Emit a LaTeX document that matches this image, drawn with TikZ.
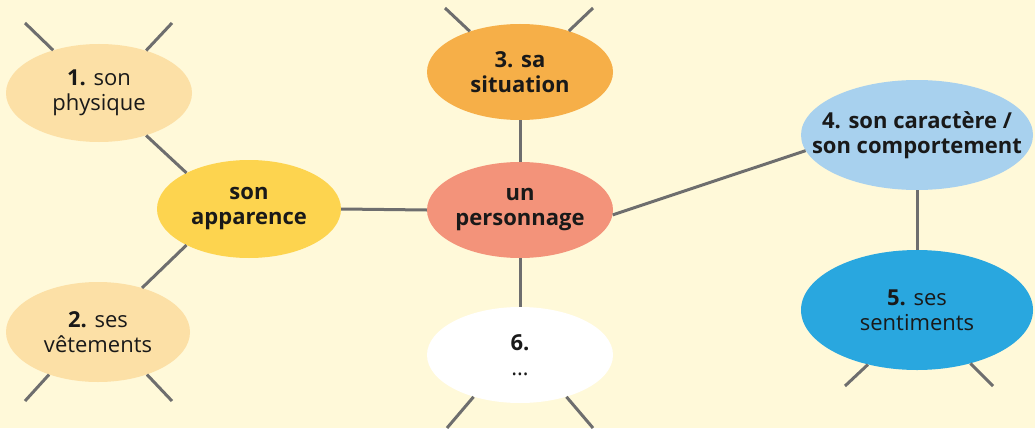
\documentclass[tikz,border=0pt]{standalone}
\usepackage{fontspec}
\setmainfont{Open Sans}
\usetikzlibrary{shapes.geometric}
\definecolor{bg}{HTML}{FFF9D9}
\definecolor{lightor}{HTML}{FCE0A6}
\definecolor{gold}{HTML}{FDD44F}
\definecolor{orange}{HTML}{F6AF48}
\definecolor{salmon}{HTML}{F3937A}
\definecolor{lblue}{HTML}{A8D1EE}
\definecolor{dblue}{HTML}{29A7DF}
\definecolor{line}{HTML}{6E6E6E}
\tikzset{
  bubble/.style={ellipse, inner sep=0pt, draw=none, align=center,
    font=\fontsize{22}{25}\selectfont, text=black!90},
  boldbubble/.style={bubble, font=\fontsize{22}{25}\selectfont\bfseries},
  link/.style={draw=line, line width=3pt},
}
\begin{document}
\begin{tikzpicture}[x=1pt,y=-1pt]
\fill[bg] (0,0) rectangle (1035,428);
\useasboundingbox (0,0) rectangle (1035,428);
\node[bubble, fill=lightor, minimum width=186, minimum height=98] (phys) at (99,93) {\textbf{1.} son\\physique};
\node[bubble, fill=lightor, minimum width=184, minimum height=100] (vet) at (98,332) {\textbf{2.} ses\\vêtements};
\node[boldbubble, fill=gold, minimum width=184, minimum height=98] (app) at (249,209) {son\\apparence};
\node[boldbubble, fill=orange, minimum width=186, minimum height=96] (sit) at (520,72) {3. sa\\situation};
\node[boldbubble, fill=salmon, minimum width=186, minimum height=96] (pers) at (520,210) {un\\personnage};
\node[bubble, fill=white, minimum width=186, minimum height=96] (six) at (520,355) {\textbf{6.}\\…};
\node[boldbubble, fill=lblue, inner xsep=-24pt, inner ysep=-6pt, minimum width=232, minimum height=110] (car) at (917,135) {4. son caractère /\\son comportement};
\node[bubble, fill=dblue, minimum width=232, minimum height=120] (sent) at (917,310) {\textbf{5.} ses\\sentiments};
\coordinate (p1) at (25,23);
\coordinate (p2) at (172,23);
\coordinate (v1) at (25,401);
\coordinate (v2) at (172,401);
\coordinate (s1) at (445,8);
\coordinate (s2) at (593,8);
\coordinate (x1) at (447,428);
\coordinate (x2) at (593,428);
\coordinate (e1) at (845,386);
\coordinate (e2) at (993,386);
\draw[link] (phys.137) -- (p1);
\draw[link] (phys.42) -- (p2);
\draw[link] (vet.221) -- (v1);
\draw[link] (vet.319) -- (v2);
\draw[link] (sit.141) -- (s1);
\draw[link] (sit.40) -- (s2);
\draw[link] (six.222) -- (x1);
\draw[link] (six.318) -- (x2);
\draw[link] (sent.228) -- (e1);
\draw[link] (sent.315) -- (e2);
\draw[link] (phys.-42) -- (app.150);
\draw[link] (app.210) -- (vet.45);
\draw[link] (app.east) -- (pers.west);
\draw[link] (sit.south) -- (pers.north);
\draw[link] (pers.south) -- (six.north);
\draw[link] (pers.-3) -- (car.188);
\draw[link] (car.south) -- (sent.north);
\end{tikzpicture}
\end{document}
